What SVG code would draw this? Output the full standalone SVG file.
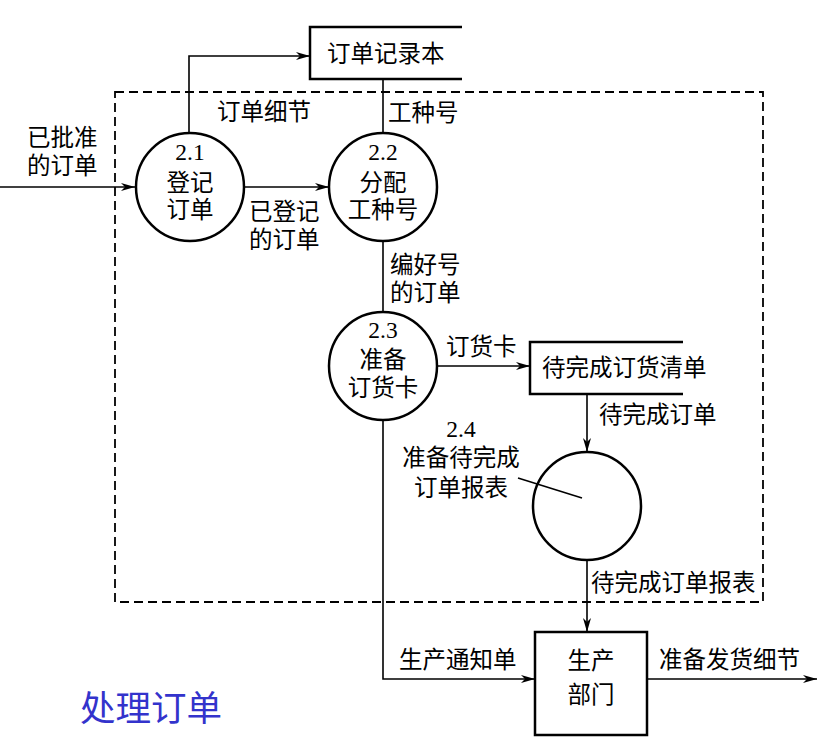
<svg xmlns="http://www.w3.org/2000/svg" width="836" height="748" viewBox="0 0 836 748">
<defs>
<marker id="arr" viewBox="0 0 14 10" refX="14" refY="5" markerWidth="14" markerHeight="10" markerUnits="userSpaceOnUse" orient="auto">
<path d="M0,1 L14,5 L0,9 L4,5 Z" fill="#000"/>
</marker>
<style>
text{font-family:"Liberation Serif","Noto Sans CJK SC",serif;font-size:23.5px;fill:#000}
.c{text-anchor:middle}
.node{fill:#fff;stroke:#000;stroke-width:2.5}
.st{fill:none;stroke:#000;stroke-width:2.5}
.ln{fill:none;stroke:#000;stroke-width:1.6}
.ar{marker-end:url(#arr)}
</style>
</defs>
<rect width="836" height="748" fill="#fff"/>
<rect id="boundary" x="115" y="92" width="648" height="510" fill="none" stroke="#000" stroke-width="1.8" stroke-dasharray="9,5"/>
<g id="connectors">
<path class="ln ar" d="M0,187 L135,187"/>
<path class="ln ar" d="M189,132 L189,56 L310,56"/>
<path class="ln ar" d="M245,187 L329,187"/>
<path class="ln" d="M383,79 L383,133"/>
<path class="ln" d="M383,241 L383,312"/>
<path class="ln ar" d="M437,366 L530,366"/>
<path class="ln ar" d="M587,394 L587,452"/>
<path class="ln ar" d="M587,560 L587,632"/>
<path class="ln ar" d="M383,420 L383,679 L535,679"/>
<path class="ln ar" d="M647,679 L817,679"/>
<text x="27" y="146">已批准</text>
<text x="27" y="174">的订单</text>
<text x="217" y="120">订单细节</text>
<text x="388" y="121">工种号</text>
<text x="249" y="220">已登记</text>
<text x="249" y="248">的订单</text>
<text x="390" y="273">编好号</text>
<text x="390" y="301">的订单</text>
<text x="446" y="355">订货卡</text>
<text x="599" y="423">待完成订单</text>
<text x="591" y="591">待完成订单报表</text>
<text x="399" y="668">生产通知单</text>
<text x="659" y="668">准备发货细节</text>
</g>
<g id="p21">
<circle class="node" cx="190" cy="187" r="54"/>
<text class="c" x="190" y="160">2.1</text>
<text class="c" x="190" y="191">登记</text>
<text class="c" x="190" y="218">订单</text>
</g>
<g id="p22">
<circle class="node" cx="383" cy="187" r="54"/>
<text class="c" x="383" y="160">2.2</text>
<text class="c" x="383" y="191">分配</text>
<text class="c" x="383" y="218">工种号</text>
</g>
<g id="p23">
<circle class="node" cx="383" cy="366" r="54"/>
<text class="c" x="383" y="338">2.3</text>
<text class="c" x="383" y="368">准备</text>
<text class="c" x="383" y="396">订货卡</text>
</g>
<g id="p24">
<circle class="node" cx="587" cy="506" r="54"/>
<path class="ln" d="M518,478 L582,498"/>
<text class="c" x="461" y="437">2.4</text>
<text class="c" x="461" y="466">准备待完成</text>
<text class="c" x="461" y="496">订单报表</text>
</g>
<g id="s1">
<path class="st" d="M462,27 L310,27 L310,79 L462,79"/>
<text x="327" y="62">订单记录本</text>
</g>
<g id="s2">
<path class="st" d="M683,342 L530,342 L530,394 L683,394"/>
<text x="542" y="376">待完成订货清单</text>
</g>
<g id="prod">
<rect class="node" x="535" y="632" width="112" height="103"/>
<text class="c" x="591" y="669">生产</text>
<text class="c" x="591" y="703">部门</text>
</g>
<text id="title" x="80" y="721" style="font-size:35.5px;fill:#3333cc">处理订单</text>
</svg>
